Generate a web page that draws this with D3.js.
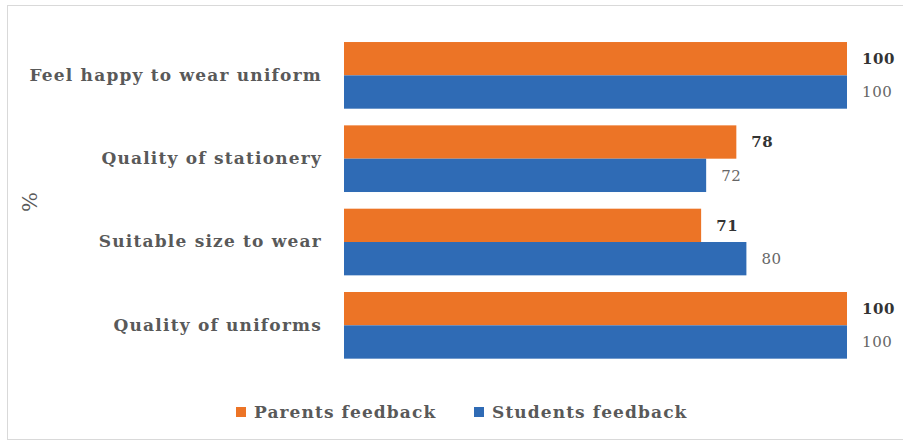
<!DOCTYPE html>
<html><head><meta charset="utf-8">
<script src="https://cdn.jsdelivr.net/npm/d3@7"></script>
<style>body{margin:0;background:#fff}</style>
</head><body>
<svg id="c" width="903" height="443"></svg>
<script>
const categories = ["Feel happy to wear uniform","Quality of stationery","Suitable size to wear","Quality of uniforms"];
const seriesNames = ["Parents feedback","Students feedback"];
const parents = [100,78,71,100];
const students = [100,72,80,100];
const colors = ["#EC7426","#2F6BB5"];

const svg = d3.select("#c");
svg.append("rect").attr("x",7.5).attr("y",5.5).attr("width",910).attr("height",434)
  .attr("fill","#fff").attr("stroke","#d9d9d9").attr("stroke-width",1);

const x = d3.scaleLinear().domain([0,100]).range([344,847]);
const y = d3.scaleBand().domain(categories).range([33.7,367]).paddingInner(0.2).paddingOuter(0.1);
const ys = d3.scaleBand().domain(seriesNames).range([0,y.bandwidth()]);

const data = categories.map((c,i)=>({cat:c, vals:[parents[i],students[i]]}));
const g = svg.append("g");
const grp = g.selectAll("g.cat").data(data).join("g").attr("transform",d=>`translate(0,${y(d.cat)})`);
grp.selectAll("rect").data(d=>d.vals.map((v,k)=>({v,k}))).join("rect")
  .attr("x",x(0)).attr("y",d=>ys(seriesNames[d.k])).attr("width",d=>x(d.v)-x(0))
  .attr("height",ys.bandwidth()).attr("fill",d=>colors[d.k]);
grp.selectAll("text").data(d=>d.vals.map((v,k)=>({v,k}))).join("text")
  .attr("x",d=>x(d.v)+15).attr("y",d=>ys(seriesNames[d.k])+ys.bandwidth()/2)
  .attr("dy","0.35em").attr("font-family","DejaVu Serif").attr("font-size",15)
  .attr("letter-spacing",0.6)
  .attr("font-weight",d=>d.k===0?"bold":"normal").attr("fill",d=>d.k===0?"#333":"#666")
  .text(d=>d.v);

// category axis
const ax = svg.append("g").attr("transform",`translate(${x(0)},0)`)
  .call(d3.axisLeft(y).tickSize(0).tickPadding(22));
ax.select(".domain").remove();
ax.selectAll("text").attr("font-family","DejaVu Serif").attr("font-weight","bold")
  .attr("font-size",17).attr("letter-spacing",1.2).attr("fill","#595959");

svg.append("text").attr("transform","translate(37,202) rotate(-90)").attr("text-anchor","middle")
  .attr("font-family","DejaVu Serif").attr("font-size",21).attr("fill","#595959").text("%");

// legend
const legX = [236,474];
const leg = svg.append("g").selectAll("g").data(seriesNames).join("g")
  .attr("transform",(d,i)=>`translate(${legX[i]},412)`);
leg.append("rect").attr("x",0).attr("y",-5).attr("width",10).attr("height",10).attr("fill",(d,i)=>colors[i]);
leg.append("text").attr("x",18).attr("dy","0.35em").attr("font-family","DejaVu Serif")
  .attr("font-weight","bold").attr("font-size",17).attr("letter-spacing",1.1).attr("fill","#595959").text(d=>d);
</script>
</body></html>
